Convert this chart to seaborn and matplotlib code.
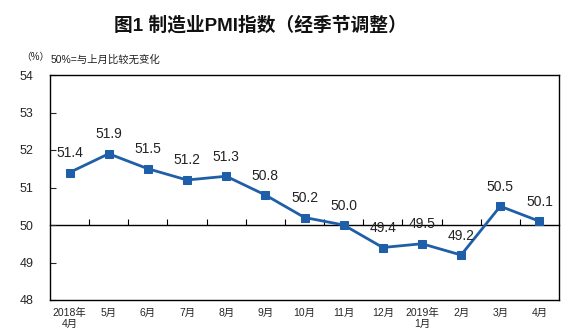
import matplotlib
matplotlib.use("Agg")
import matplotlib.pyplot as plt
import seaborn as sns
import numpy as np
import pandas as pd

months = ["2018年\n4月", "5月", "6月", "7月", "8月", "9月", "10月", "11月",
          "12月", "2019年\n1月", "2月", "3月", "4月"]
pmi = [51.4, 51.9, 51.5, 51.2, 51.3, 50.8, 50.2, 50.0, 49.4, 49.5, 49.2, 50.5, 50.1]
yticks = [48, 49, 50, 51, 52, 53, 54]

sns.set_style("white")
plt.rcParams['font.family'] = ['Liberation Sans', 'Noto Sans CJK SC', 'DejaVu Sans']

df = pd.DataFrame({"pos": np.arange(len(months)), "pmi": pmi})

fig = plt.figure(figsize=(5.84, 3.34), dpi=100)
ax = fig.add_axes([50/584, 1-300/334, 509/584, 225/334])

color = "#1f5fa8"
sns.lineplot(data=df, x="pos", y="pmi", ax=ax, color=color, linewidth=2,
             marker="s", markersize=5.5, markeredgecolor=color, markerfacecolor=color)

for x, v in zip(df["pos"], df["pmi"]):
    ax.annotate(f"{v:.1f}", (x, v), xytext=(0, 9), textcoords="offset points",
                ha="center", va="bottom", fontsize=10, color="#222222")

ax.set_xlim(-0.5, len(months) - 0.5)
ax.set_ylim(yticks[0], yticks[-1])
ax.set_yticks(yticks)
ax.set_yticklabels([str(t) for t in yticks], fontsize=9)
ax.set_xticks(df["pos"])
ax.set_xticklabels(months, fontsize=7.5, linespacing=1.05)
ax.tick_params(axis="x", length=0, pad=6)
ax.tick_params(axis="y", direction="in", length=4, left=True, width=0.8, pad=12)
ax.set_xlabel("")
ax.set_ylabel("")
for s in ax.spines.values():
    s.set_color("black")
    s.set_linewidth(1)

# category axis along 50
loc = (50 - yticks[0]) / (yticks[-1] - yticks[0])
sec = ax.secondary_xaxis(loc)
sec.set_xticks(np.arange(len(months) - 1) + 0.5)
sec.set_xticklabels([])
sec.tick_params(axis="x", direction="in", length=4, width=0.8, color="black")
sec.spines["bottom"].set_color("black")
sec.spines["bottom"].set_linewidth(1)
sec.spines["top"].set_color("black")
sec.spines["top"].set_linewidth(1)

fig.text(260/584, 1-25/334, "图1 制造业PMI指数（经季节调整）", ha="center", va="center",
         fontsize=13.5, fontweight="bold", color="#111111")
fig.text(21/584, 1-57/334, "（%）", ha="left", va="center", fontsize=7, color="#222222")
fig.text(51/584, 1-60/334, "50%=与上月比较无变化", ha="left", va="center", fontsize=7.5, color="#222222")

fig.savefig("out.png", dpi=100)
